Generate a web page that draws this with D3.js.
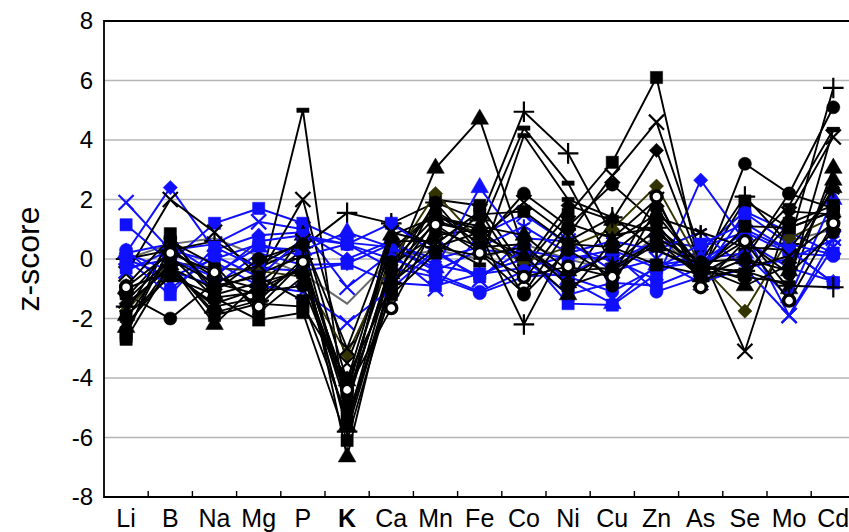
<!DOCTYPE html>
<html>
<head>
<meta charset="utf-8">
<script src="https://cdn.jsdelivr.net/npm/d3@7"></script>
<style>
  html, body { margin: 0; padding: 0; background: #fff; }
  svg { display: block; font-family: Arial, "Liberation Sans", sans-serif; }
</style>
</head>
<body>
<div id="chart"></div>
<script>
// categories along x (K shown in bold)
const elements = ['Li','B','Na','Mg','P','K','Ca','Mn','Fe','Co','Ni','Cu','Zn','As','Se','Mo','Cd'];
const boldElement = 'K';
const yTicks = [-8,-6,-4,-2,0,2,4,6,8];

// z-scores per sample (order = elements)
const blackSeries = [
  [-2.3,-0.2,-2.2,-0.8, 0.3,-6.65,-0.5, 3.05, 4.7, 0.3,-0.8, 1.3, 0.9,-0.3, 0.8,-1.0, 3.05],
  [-2.6, 0.85,-1.3,-2.05,-1.8,-6.1,-1.0, 2.0, 1.8,-0.3, 1.5, 3.25, 6.1,-0.4, 1.95, 1.05, 1.6],
  [-1.3, 0.3,-0.6,-1.0, 5.0,-5.5,-0.3, 1.2, 0.9, 4.4, 2.55,-0.2, 1.0,-0.5, 0.3, 1.8, 4.35],
  [ 0.0, 0.3, 0.6,-0.3, 0.4, 1.55, 1.2, 1.9, 1.3, 4.95, 3.55, 0.8, 1.05,-0.1, 2.1, 0.5, 5.75],
  [-0.5, 2.0, 0.9,-0.6, 2.0,-3.5, 0.3, 1.6, 0.7, 1.9, 0.8, 2.8, 4.6, 0.2,-3.1, 1.5, 4.1],
  [-1.2,-2.0,-0.8,-1.2,-0.2,-4.3, 0.2, 1.55, 0.5, 2.2, 1.1, 2.5, 1.2,-0.6, 3.2, 2.2, 5.1],
  [-1.5,-0.3,-1.0,-0.5, 0.1,-4.8,-0.2, 0.8, 1.0,-0.2, 1.8, 1.3, 3.65,-0.2,-0.7, 1.6, 1.5],
  [-1.75,-0.1,-0.3,-0.4,-0.6,-3.2,-0.1, 2.2, 0.6,-0.1, 0.4, 1.0, 2.45,-0.2,-1.75, 0.7, 1.4],
  [-2.2,-0.5,-1.5,-1.0,-0.3,-5.0, 1.2, 0.4, 0.1, 0.4,-0.6, 0.2, 1.4, 0.9, 0.4, 0.3, 2.3],
  [-1.0,-0.4,-1.6,-1.3, 0.8,-4.1, 0.8, 1.4, 1.1, 0.8,-0.4,-0.3, 0.6,-0.6, 0.0,-0.4, 2.65],
  [-2.5, 0.4,-0.9,-0.6,-1.4,-5.3,-1.2, 0.2, 1.5, 1.6, 0.5, 0.4,-0.2,-0.5, 1.1, 1.05, 1.6],
  [-1.8, 0.6,-0.2,-1.8,-0.6,-4.5, 0.6, 0.6,-0.2, 4.15, 2.0, 1.4, 0.3,-0.4,-0.6,-0.8, 4.35],
  [-1.6,-0.2,-1.8,-1.4, 0.0,-5.8,-0.8, 0.4, 0.9,-2.2, 0.6, 1.4, 0.3,-0.3,-0.4,-0.9,-0.95],
  [-2.0, 0.1,-1.3,-1.1,-0.9,-4.6,-0.4, 1.9, 0.2,-1.15, 1.0,-0.9, 1.7,-0.3, 0.6,-0.5, 0.9],
  [-2.7,-0.2,-1.9,-1.5,-1.6,-4.0,-0.9, 1.0, 0.4, 0.5,-0.9,-0.4, 0.5,-0.2,-0.5, 1.2, 1.8],
  [-1.4, 0.0,-0.8,-0.2, 0.6,-3.0, 0.9, 0.5, 1.6,-0.7, 1.2, 0.7, 2.0,-0.7,-0.3, 0.1, 1.2],
  [-1.9,-0.6,-1.2,-0.8,-0.4,-5.6,-0.7, 1.3, 0.8, 0.1,-1.2, 0.6, 1.5,-0.3,-0.9,-0.2, 2.4],
  [-0.9, 0.7,-1.1, 0.0, 0.5,-4.9,-0.1, 1.4, 1.0,-1.2, 0.3,-0.6, 0.7,-0.1, 0.0, 2.2, 1.7],
  [-0.95, 0.2,-0.45,-1.6,-0.1,-4.4,-1.65, 1.15, 0.2,-0.6,-0.25,-0.6, 2.1,-0.95, 0.6,-1.4, 1.2]
];
const blackMarkers = ['triangle','square','dash','plus','x','dot','diamond','diamond','asterisk',
  'triangle','square','dash','plus','dot','square','x','triangle','dot','open'];
const blackColors = ['#000','#000','#000','#000','#000','#000','#000','#333300','#000',
  '#000','#000','#000','#000','#000','#000','#000','#000','#000','#000'];

const greySeries = [
  [ 0.0, 0.5, 0.7, 0.1,-0.5,-1.5, 0.0, 0.3, 0.0, 0.5, 0.0,-0.4, 0.8,-0.5, 0.2, 0.6, 1.0]
];

const blueSeries = [
  [ 1.15,-0.1, 1.2, 1.7, 1.2, 0.55, 0.4,-0.4, 0.3, 0.2,-1.5,-1.55,-0.5, 0.3, 1.6, 0.9, 0.2],
  [ 1.9, 0.3, 0.5, 1.25, 1.0,-0.95, 0.2,-1.0, 0.8, 1.5, 0.5,-0.1, 0.6, 0.4, 0.9,-1.9, 0.7],
  [ 0.2, 2.4, 0.3, 0.8, 0.9, 0.0, 0.6,-0.2,-0.5,-0.3, 0.1, 0.0,-0.7, 2.65, 0.6,-0.3,-0.75],
  [ 0.0,-0.6, 0.0, 0.5, 0.1, 0.5,-0.3,-0.6,-1.15,-0.6,-0.5, 0.2,-1.1,-0.6, 1.55, 0.5, 0.15],
  [ 0.2,-0.4,-0.9, 0.2,-0.2,-0.15, 0.5, 0.0, 0.4, 1.1, 0.2, 0.6, 0.3, 0.9,-0.3, 0.0, 0.65],
  [ 0.0,-1.2, 0.4,-0.3,-0.4,-0.15,-0.8,-0.9,-0.5, 0.0,-1.2,-0.8,-0.9,-0.3, 1.0, 0.3,-0.8],
  [-0.4, 0.3,-0.1,-0.9,-1.1,-2.15,-1.0, 0.3,-0.7, 0.7, 0.6,-0.4, 0.0,-0.8,-0.3,-1.9, 0.4],
  [ 0.2, 0.5,-0.5, 0.4, 0.3, 0.9, 0.4,-0.3, 2.4, 0.4,-0.7,-1.5,-0.2, 0.0, 0.2,-1.3, 2.0],
  [ 0.3,-1.0, 0.1,-0.6, 0.7, 0.5, 0.0,-0.5,-1.1,-0.4,-0.6,-1.1,-0.3,-0.1, 0.9, 0.2, 0.1],
  [-0.3, 0.0,-0.6, 0.6, 0.8, 0.5, 1.2, 0.2,-0.6, 0.3, 0.0, 0.3,-0.3, 0.5, 1.2, 0.3,-0.8]
];
const blueMarkers = ['square','x','diamond','dot','asterisk','square','x','triangle','dot','square'];

const width = 849, height = 532;
const margin = {t:21, l:104, b:35};
const bandW = 44.2;
const w = bandW * elements.length;
const h = height - margin.t - margin.b;

const svg = d3.select('#chart').append('svg')
  .attr('width', width)
  .attr('height', height);

const scaleX = d3.scaleBand().domain(elements).range([0, w]);
const scaleY = d3.scaleLinear().domain([-8, 8]).range([h, 0]);

const plot = svg.append('g').attr('transform', `translate(${margin.l},${margin.t})`);

// gridlines
plot.selectAll('.grid').data(yTicks.filter(d => d > -8 && d < 8)).enter()
  .append('line')
  .attr('x1', 0).attr('x2', w)
  .attr('y1', d => scaleY(d)).attr('y2', d => scaleY(d))
  .style('stroke', '#b4b4b4').style('stroke-width', 1.6);

// axis text (plain hyphen for negatives, as in the original)
const axisY = d3.axisLeft(scaleY).tickValues(yTicks).tickSize(0).tickPadding(11)
  .tickFormat(d => String(d));
const gY = plot.append('g').call(axisY);
gY.select('.domain').remove();
gY.selectAll('text').style('font-size', '24px').style('fill', '#000');

const axisX = d3.axisBottom(scaleX).tickSize(0).tickPadding(12);
const gX = plot.append('g').attr('transform', `translate(0,${h})`).call(axisX);
gX.select('.domain').remove();
gX.selectAll('text')
  .style('font-size', '25px').style('fill', '#000')
  .style('font-weight', d => d === boldElement ? 'bold' : 'normal');

// small ticks between categories
plot.selectAll('.xtick').data(d3.range(1, elements.length)).enter()
  .append('line')
  .attr('x1', d => d * bandW).attr('x2', d => d * bandW)
  .attr('y1', h).attr('y2', h - 6)
  .style('stroke', '#000').style('stroke-width', 1.4);

svg.append('text')
  .attr('transform', `translate(39,${margin.t + scaleY(0)}) rotate(-90)`)
  .attr('text-anchor', 'middle')
  .style('font-size', '32px')
  .text('z-score');

// markers
const dash = {
  draw(ctx, size) {
    const r = Math.sqrt(size) / 2;
    ctx.rect(-r, -2.2, 2 * r, 4.4);
  }
};
const markerDef = {
  square:   {type: d3.symbolSquare, size: 150, fill: true},
  triangle: {type: d3.symbolTriangle, size: 135, fill: true},
  diamond:  {type: d3.symbolDiamond2, size: 130, fill: true},
  dot:      {type: d3.symbolCircle, size: 135, fill: true},
  open:     {type: d3.symbolCircle, size: 95, fill: false, open: true},
  dash:     {type: dash, size: 150, fill: true},
  plus:     {type: d3.symbolPlus, size: 140, fill: false},
  x:        {type: d3.symbolTimes, size: 150, fill: false},
  asterisk: {type: d3.symbolAsterisk, size: 140, fill: false}
};

const line = d3.line()
  .x((d, i) => scaleX(elements[i]) + scaleX.bandwidth() / 2)
  .y(d => scaleY(d));

function drawSeries(values, color, marker, lineWidth) {
  const g = plot.append('g');
  g.append('path')
    .attr('d', line(values))
    .style('fill', 'none')
    .style('stroke', color)
    .style('stroke-width', lineWidth);
  if (!marker) return;
  const m = markerDef[marker];
  g.selectAll('path.m').data(values).enter()
    .append('path')
    .attr('class', 'm')
    .attr('transform', (d, i) => `translate(${scaleX(elements[i]) + scaleX.bandwidth() / 2},${scaleY(d)})`)
    .attr('d', d3.symbol(m.type, m.size))
    .style('fill', m.open ? '#fff' : (m.fill ? color : 'none'))
    .style('stroke', color)
    .style('stroke-width', m.open ? 3.4 : (m.fill ? 0.5 : 2.2));
}

// interleave samples so blue and black overlap as in the original
greySeries.forEach(v => drawSeries(v, '#6a6a6a', null, 2));
const nMax = Math.max(blackSeries.length, blueSeries.length);
for (let i = 0; i < nMax; i++) {
  if (i < blueSeries.length && i % 2 === 0) drawSeries(blueSeries[i], '#1010ff', blueMarkers[i], 2);
  if (i < blackSeries.length) drawSeries(blackSeries[i], blackColors[i], blackMarkers[i], 1.9);
  if (i < blueSeries.length && i % 2 === 1) drawSeries(blueSeries[i], '#1010ff', blueMarkers[i], 2);
}

// frame (left, top, bottom; right edge falls outside the picture)
plot.append('path')
  .attr('d', `M${w},0H0V${h}H${w}`)
  .style('fill', 'none').style('stroke', '#000').style('stroke-width', 1.8);
</script>
</body>
</html>
